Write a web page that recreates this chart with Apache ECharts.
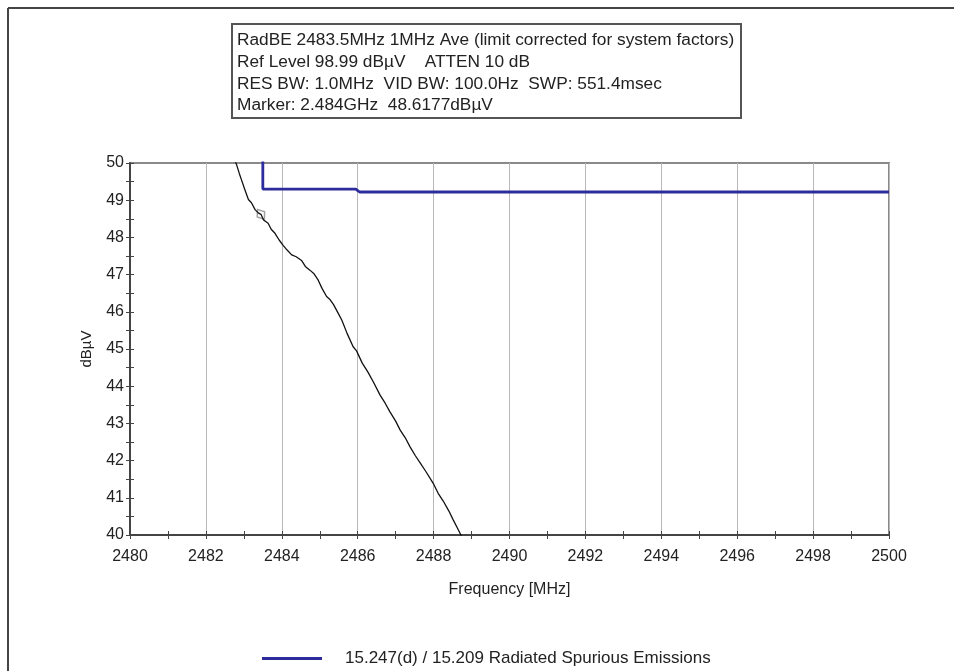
<!DOCTYPE html>
<html>
<head>
<meta charset="utf-8">
<script src="https://cdn.jsdelivr.net/npm/echarts@6/dist/echarts.min.js"></script>
<style>
  html, body { margin: 0; padding: 0; background: #fff; }
  #chart { width: 954px; height: 671px; }
</style>
</head>
<body>
<div id="chart"></div>
<script>
// Measured trace: frequency (MHz) and level (dBµV)
const traceFreq = [2482.75, 2482.81, 2482.88, 2482.94, 2483.02, 2483.12, 2483.2, 2483.3, 2483.38, 2483.45,
  2483.52, 2483.64, 2483.72, 2483.82, 2483.93, 2484.04, 2484.14, 2484.26, 2484.38, 2484.52,
  2484.62, 2484.74, 2484.85, 2484.96, 2485.06, 2485.18, 2485.27, 2485.36, 2485.47, 2485.58,
  2485.72, 2485.88, 2485.97, 2486.12, 2486.27, 2486.42, 2486.59, 2486.72, 2486.85, 2487.0,
  2487.12, 2487.25, 2487.38, 2487.52, 2487.65, 2487.8, 2487.99, 2488.12, 2488.25, 2488.4,
  2488.52, 2488.62, 2488.70, 2488.78];
const traceLevel = [50.1, 49.95, 49.72, 49.54, 49.3, 49.02, 48.93, 48.74, 48.66, 48.62,
  48.47, 48.38, 48.22, 48.11, 47.93, 47.78, 47.66, 47.53, 47.48, 47.38,
  47.22, 47.12, 47.02, 46.85, 46.63, 46.41, 46.33, 46.2, 45.99, 45.78,
  45.42, 45.06, 44.95, 44.62, 44.38, 44.1, 43.76, 43.55, 43.31, 43.06,
  42.82, 42.62, 42.37, 42.13, 41.93, 41.7, 41.39, 41.12, 40.92, 40.65,
  40.4, 40.2, 40.04, 39.85];

// Limit line (15.247(d) / 15.209)
const limitFreq = [2483.5, 2483.5, 2485.95, 2486.05, 2500];
const limitLevel = [54, 49.3, 49.3, 49.22, 49.22];

// Marker
const markerFreq = [2483.45];
const markerLevel = [48.6177];

const infoLines = [
  'RadBE 2483.5MHz 1MHz Ave (limit corrected for system factors)',
  'Ref Level 98.99 dBµV    ATTEN 10 dB',
  'RES BW: 1.0MHz  VID BW: 100.0Hz  SWP: 551.4msec',
  'Marker: 2.484GHz  48.6177dBµV'
];
const limitName = '15.247(d) / 15.209 Radiated Spurious Emissions';

const zip = (a, b) => a.map((v, i) => [v, b[i]]);
const FONT = '"Liberation Sans", Arial, sans-serif';
const AXIS_COLOR = '#444';

const chart = echarts.init(document.getElementById('chart'));

const xRange = { type: 'value', min: 2480, max: 2500 };
const yRange = { type: 'value', min: 40, max: 50 };

// helper: an unlabeled axis that only contributes tick marks
const tickOnlyAxis = (range, position, interval, inside) => Object.assign({}, range, {
  position, offset: 0, interval,
  axisLine: { show: false },
  axisTick: { show: true, inside, length: 4, lineStyle: { color: AXIS_COLOR, width: 1 } },
  axisLabel: { show: false },
  splitLine: { show: false }
});

chart.setOption({
  backgroundColor: '#ffffff',
  animation: false,
  grid: {
    left: 130, right: 65, top: 163, bottom: 136,
    show: true, borderColor: '#8a8a8a', borderWidth: 2, backgroundColor: 'transparent'
  },
  xAxis: [
    Object.assign({}, xRange, {
      position: 'bottom', interval: 2,
      name: 'Frequency [MHz]', nameLocation: 'middle', nameGap: 47,
      nameTextStyle: { fontFamily: FONT, fontSize: 16, color: '#222' },
      axisLine: { lineStyle: { color: AXIS_COLOR, width: 2 } },
      axisTick: { show: false },
      axisLabel: { fontFamily: FONT, fontSize: 16, color: '#222', margin: 14, formatter: v => String(v) },
      splitLine: { show: true, lineStyle: { color: '#b8b8b8', width: 1 } }
    }),
    tickOnlyAxis(xRange, 'bottom', 1, false),
    tickOnlyAxis(xRange, 'bottom', 1, true)
  ],
  yAxis: [
    Object.assign({}, yRange, {
      position: 'left', interval: 1,
      name: 'dBµV', nameLocation: 'middle', nameGap: 36, nameRotate: 90,
      nameTextStyle: { fontFamily: FONT, fontSize: 15, color: '#222' },
      axisLine: { show: true, lineStyle: { color: AXIS_COLOR, width: 2 } },
      axisTick: { show: false },
      axisLabel: { fontFamily: FONT, fontSize: 16, color: '#222', margin: 6, formatter: v => String(v) },
      splitLine: { show: false }
    }),
    tickOnlyAxis(yRange, 'left', 0.5, false),
    tickOnlyAxis(yRange, 'left', 0.5, true)
  ],
  legend: {
    show: true,
    data: [limitName],
    left: 257, top: 645,
    icon: 'rect', itemWidth: 60, itemHeight: 3,
    textStyle: { fontFamily: FONT, fontSize: 17, color: '#222', padding: [0, 0, 0, 18] }
  },
  graphic: [
    // outer frame (left and top edges)
    { type: 'line', shape: { x1: 8, y1: 8, x2: 8, y2: 671 }, style: { stroke: '#444', lineWidth: 2 } },
    { type: 'line', shape: { x1: 8, y1: 8, x2: 954, y2: 8 }, style: { stroke: '#444', lineWidth: 2 } },
    // info box
    { type: 'rect', shape: { x: 232, y: 24, width: 509, height: 94 },
      style: { fill: '#fff', stroke: '#555', lineWidth: 2 } },
    ...infoLines.map((t, i) => ({
      type: 'text', left: 237, top: 32 + i * 21.7,
      style: { text: t, font: '17.3px ' + FONT, fill: '#222' }
    }))
  ],
  series: [
    {
      name: limitName, type: 'line', data: zip(limitFreq, limitLevel),
      showSymbol: false, symbol: 'none', clip: true,
      itemStyle: { color: '#2c2c9c' },
      lineStyle: { color: '#2c2c9c', width: 2.8 }
    },
    {
      name: 'Trace', type: 'line', data: zip(traceFreq, traceLevel),
      showSymbol: false, symbol: 'none', clip: true,
      lineStyle: { color: '#111', width: 1.3 }
    },
    {
      name: 'Marker', type: 'scatter', data: zip(markerFreq, markerLevel),
      symbol: 'diamond', symbolSize: [9, 12], symbolRotate: 35,
      itemStyle: { color: 'transparent', borderColor: '#888', borderWidth: 1.5 }
    }
  ]
});
</script>
</body>
</html>
